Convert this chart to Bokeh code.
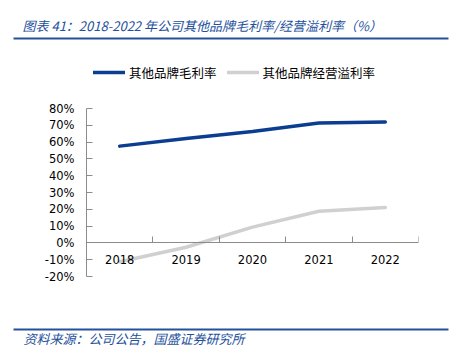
from bokeh.plotting import figure
from bokeh.layouts import column
from bokeh.models import Range1d, FixedTicker, Legend, LegendItem
from bokeh.core.properties import value
from bokeh.embed import file_html
from bokeh.resources import INLINE

# ---- data ----
years = ["2018", "2019", "2020", "2021", "2022"]
gross_margin = [57.6, 62.2, 66.3, 71.4, 72.0]      # 其他品牌毛利率 (%)
op_margin = [-11.2, -2.6, 9.4, 18.8, 21.0]          # 其他品牌经营溢利率 (%)
y_ticks = [-20, -10, 0, 10, 20, 30, 40, 50, 60, 70, 80]
y_tick_labels = [f"{t}%" for t in y_ticks]
series_names = ["其他品牌毛利率", "其他品牌经营溢利率"]
title_text = "图表 41：2018-2022 年公司其他品牌毛利率/经营溢利率（%）"
source_text = "资料来源：公司公告，国盛证券研究所"

BLUE = "#0b3d91"
GRAY = "#d0d0d0"
HEAD = "#24509c"
AXIS = "#8c8c8c"
CJK = "Noto Sans CJK SC"
NUM = "DejaVu Sans"

W = 456
H_HEAD, H_MAIN, H_FOOT = 50, 268, 33


def banner(height):
    f = figure(width=W, height=height, output_backend="svg", toolbar_location=None,
               x_range=Range1d(0, W), y_range=Range1d(height, 0),
               min_border=0, x_axis_location=None, y_axis_location=None,
               frame_align=False)
    f.outline_line_color = None
    f.grid.grid_line_color = None
    f.border_fill_color = "white"
    f.background_fill_color = "white"
    return f


# ---- header ----
head = banner(H_HEAD)
head.text(x=[22], y=[25], text=[title_text], text_font=value(CJK), text_font_size="13px",
          text_font_style="italic", text_color=HEAD, text_baseline="middle")
head.segment(x0=[13], y0=[38], x1=[448], y1=[38], line_color=HEAD, line_width=2)

# ---- main chart ----
PLOT_TOP, FRAME_TOP, Y80, Y_20, X_LEFT, X_RIGHT = 50, 55, 108, 276, 86, 418
y_end = y_ticks[0] + (y_ticks[-1] - y_ticks[0]) * (Y_20 - FRAME_TOP) / (Y_20 - Y80)
p = figure(width=W, height=H_MAIN, output_backend="svg", toolbar_location=None,
           x_range=Range1d(0, len(years)), y_range=Range1d(y_ticks[0], y_end),
           min_border_left=X_LEFT, min_border_right=W - X_RIGHT,
           min_border_top=FRAME_TOP - PLOT_TOP,
           min_border_bottom=PLOT_TOP + H_MAIN - Y_20,
           frame_align=False)
p.outline_line_color = None
p.grid.grid_line_color = None
p.background_fill_color = "white"
p.border_fill_color = "white"

xc = [i + 0.5 for i in range(len(years))]

xa = p.xaxis[0]
xa.fixed_location = 0
xa.ticker = FixedTicker(ticks=xc, minor_ticks=[i + 1 for i in range(len(years))])
xa.major_label_overrides = {c: y for c, y in zip(xc, years)}
xa.major_tick_in = 0
xa.major_tick_out = 0
xa.minor_tick_in = 6
xa.minor_tick_out = 0
xa.minor_tick_line_color = AXIS
xa.axis_line_color = AXIS
xa.major_label_standoff = 12
xa.major_label_text_font = NUM
xa.major_label_text_font_size = "11.5px"
xa.major_label_text_color = "black"

ya = p.yaxis[0]
ya.bounds = (y_ticks[0], y_ticks[-1])
ya.ticker = FixedTicker(ticks=y_ticks)
ya.major_label_overrides = {t: l for t, l in zip(y_ticks, y_tick_labels)}
ya.major_tick_in = 6
ya.major_tick_out = 0
ya.major_tick_line_color = AXIS
ya.minor_tick_line_color = None
ya.axis_line_color = AXIS
ya.major_label_standoff = 12
ya.major_label_text_font = NUM
ya.major_label_text_font_size = "11.5px"
ya.major_label_text_color = "black"

r1 = p.line(xc, gross_margin, line_color=BLUE, line_width=3.5, line_cap="round", line_join="round")
r2 = p.line(xc, op_margin, line_color=GRAY, line_width=3.5, line_cap="round", line_join="round")

legend = Legend(items=[LegendItem(label=series_names[0], renderers=[r1]),
                       LegendItem(label=series_names[1], renderers=[r2])],
                orientation="horizontal", location=(7, 194),
                padding=0, margin=0, spacing=10, label_standoff=4,
                glyph_width=32, glyph_height=20, label_height=20,
                border_line_color=None, background_fill_alpha=0,
                label_text_font=CJK, label_text_font_size="12.5px",
                label_text_color="black")
p.add_layout(legend, "center")

# ---- footer ----
foot = banner(H_FOOT)
foot.segment(x0=[13], y0=[11], x1=[448], y1=[11], line_color=HEAD, line_width=2)
foot.text(x=[23], y=[20], text=[source_text], text_font=value(CJK), text_font_size="13px",
          text_font_style="italic", text_color=HEAD, text_baseline="middle")

layout = column(head, p, foot, spacing=0)
open("out.html", "w").write(file_html(layout, INLINE))
